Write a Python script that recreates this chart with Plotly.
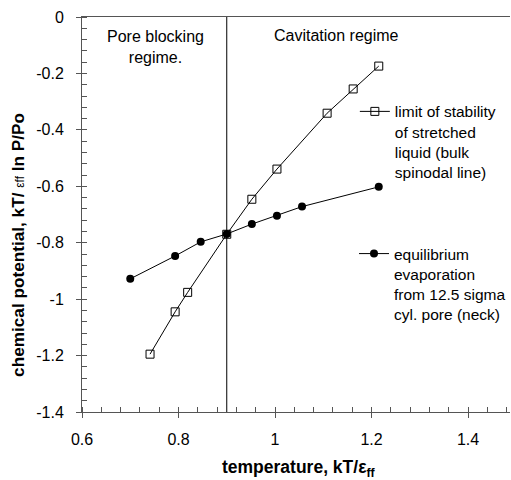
import plotly.graph_objects as go

# Data: limit of stability of stretched liquid (bulk spinodal line)
spin_T = [0.741, 0.793, 0.819, 0.900, 0.952, 1.004, 1.108, 1.162, 1.215]
spin_mu = [-1.195, -1.045, -0.976, -0.770, -0.646, -0.539, -0.341, -0.255, -0.174]

# Data: equilibrium evaporation from 12.5 sigma cyl. pore (neck)
evap_T = [0.700, 0.793, 0.846, 0.900, 0.952, 1.004, 1.056, 1.215]
evap_mu = [-0.928, -0.847, -0.797, -0.769, -0.734, -0.704, -0.672, -0.602]

regime_boundary = 0.9

x_tickvals = [0.6, 0.8, 1.0, 1.2, 1.4]
x_ticktext = ["0.6", "0.8", "1", "1.2", "1.4"]
y_tickvals = [0, -0.2, -0.4, -0.6, -0.8, -1.0, -1.2, -1.4]
y_ticktext = ["0", "-0.2", "-0.4", "-0.6", "-0.8", "-1", "-1.2", "-1.4"]

FONT = "Arial, Liberation Sans, sans-serif"
AX = "#555555"
XR = [0.6, 1.487]
YR = [-1.4, 0.0]

fig = go.Figure()
fig.add_trace(go.Scatter(
    x=spin_T, y=spin_mu, mode="lines+markers",
    name="limit of stability<br>of stretched<br>liquid (bulk<br>spinodal line)",
    line=dict(color="black", width=1),
    marker=dict(symbol="square-open", size=8, color="black", line=dict(width=1)),
    legend="legend",
))
fig.add_trace(go.Scatter(
    x=evap_T, y=evap_mu, mode="lines+markers",
    name="equilibrium<br>evaporation<br>from 12.5 sigma<br>cyl. pore (neck)",
    line=dict(color="black", width=1),
    marker=dict(symbol="circle", size=8, color="black"),
    legend="legend2",
))

fig.add_shape(type="line", x0=regime_boundary, x1=regime_boundary, y0=0, y1=1,
              xref="x", yref="paper", line=dict(color="black", width=1))

fig.add_annotation(x=0.753, y=-0.105, xref="x", yref="y", text="Pore blocking<br>regime.",
                   showarrow=False, font=dict(size=16, family=FONT, color="black"))
fig.add_annotation(x=1.128, y=-0.067, xref="x", yref="y", text="Cavitation regime",
                   showarrow=False, font=dict(size=16, family=FONT, color="black"))

fig.add_annotation(
    x=-0.151, y=0.424, xref="paper", yref="paper", textangle=-90,
    text="<b>chemical potential, kT/ </b><span style=\"font-size:12px\">εff</span><b> ln P/Po</b>",
    showarrow=False, xanchor="center", yanchor="middle",
    font=dict(size=17.2, family=FONT, color="black"))
fig.add_annotation(
    x=0.508, y=-0.142, xref="paper", yref="paper",
    text="<b>temperature, kT/ε<sub>ff</sub></b>",
    showarrow=False, xanchor="center", yanchor="middle",
    font=dict(size=17.5, family=FONT, color="black"))

fig.update_layout(
    width=511, height=480,
    margin=dict(l=82, r=0, t=17, b=68),
    plot_bgcolor="white", paper_bgcolor="white",
    font=dict(family=FONT, size=16, color="black"),
    xaxis=dict(range=XR, showgrid=False, zeroline=False,
               showline=True, linecolor=AX, linewidth=1, mirror=True,
               tickvals=x_tickvals, ticktext=x_ticktext,
               ticks="outside", ticklen=5, tickcolor=AX,
               minor=dict(ticks="inside", ticklen=5, tickcolor=AX, dtick=0.04, tick0=0.6),
               ticklabelstandoff=8),
    yaxis=dict(range=YR, showgrid=False, zeroline=False,
               showline=True, linecolor=AX, linewidth=1,
               tickvals=y_tickvals, ticktext=y_ticktext,
               ticks="outside", ticklen=5, tickcolor=AX,
               minor=dict(ticks="inside", ticklen=5, tickcolor=AX, dtick=0.04, tick0=0),
               ticklabelstandoff=9),
    xaxis2=dict(range=XR, overlaying="x", anchor="y", side="bottom",
                showgrid=False, zeroline=False, showline=False,
                tickvals=x_tickvals, ticks="inside", ticklen=5, tickcolor=AX,
                showticklabels=False),
    yaxis2=dict(range=YR, overlaying="y", anchor="x", side="left",
                showgrid=False, zeroline=False, showline=False,
                tickvals=y_tickvals, ticks="inside", ticklen=5, tickcolor=AX,
                showticklabels=False),
    legend=dict(x=0.636, y=0.803, xanchor="left", yanchor="top", valign="top",
                bgcolor="rgba(0,0,0,0)", font=dict(size=15.5, family=FONT)),
    legend2=dict(x=0.636, y=0.443, xanchor="left", yanchor="top", valign="top",
                 bgcolor="rgba(0,0,0,0)", font=dict(size=15.5, family=FONT)),
    showlegend=True,
)

# dummy trace to activate secondary axes
fig.add_trace(go.Scatter(x=[None], y=[None], xaxis="x2", yaxis="y2",
                         showlegend=False, hoverinfo="skip"))

fig.write_html("out.html")
